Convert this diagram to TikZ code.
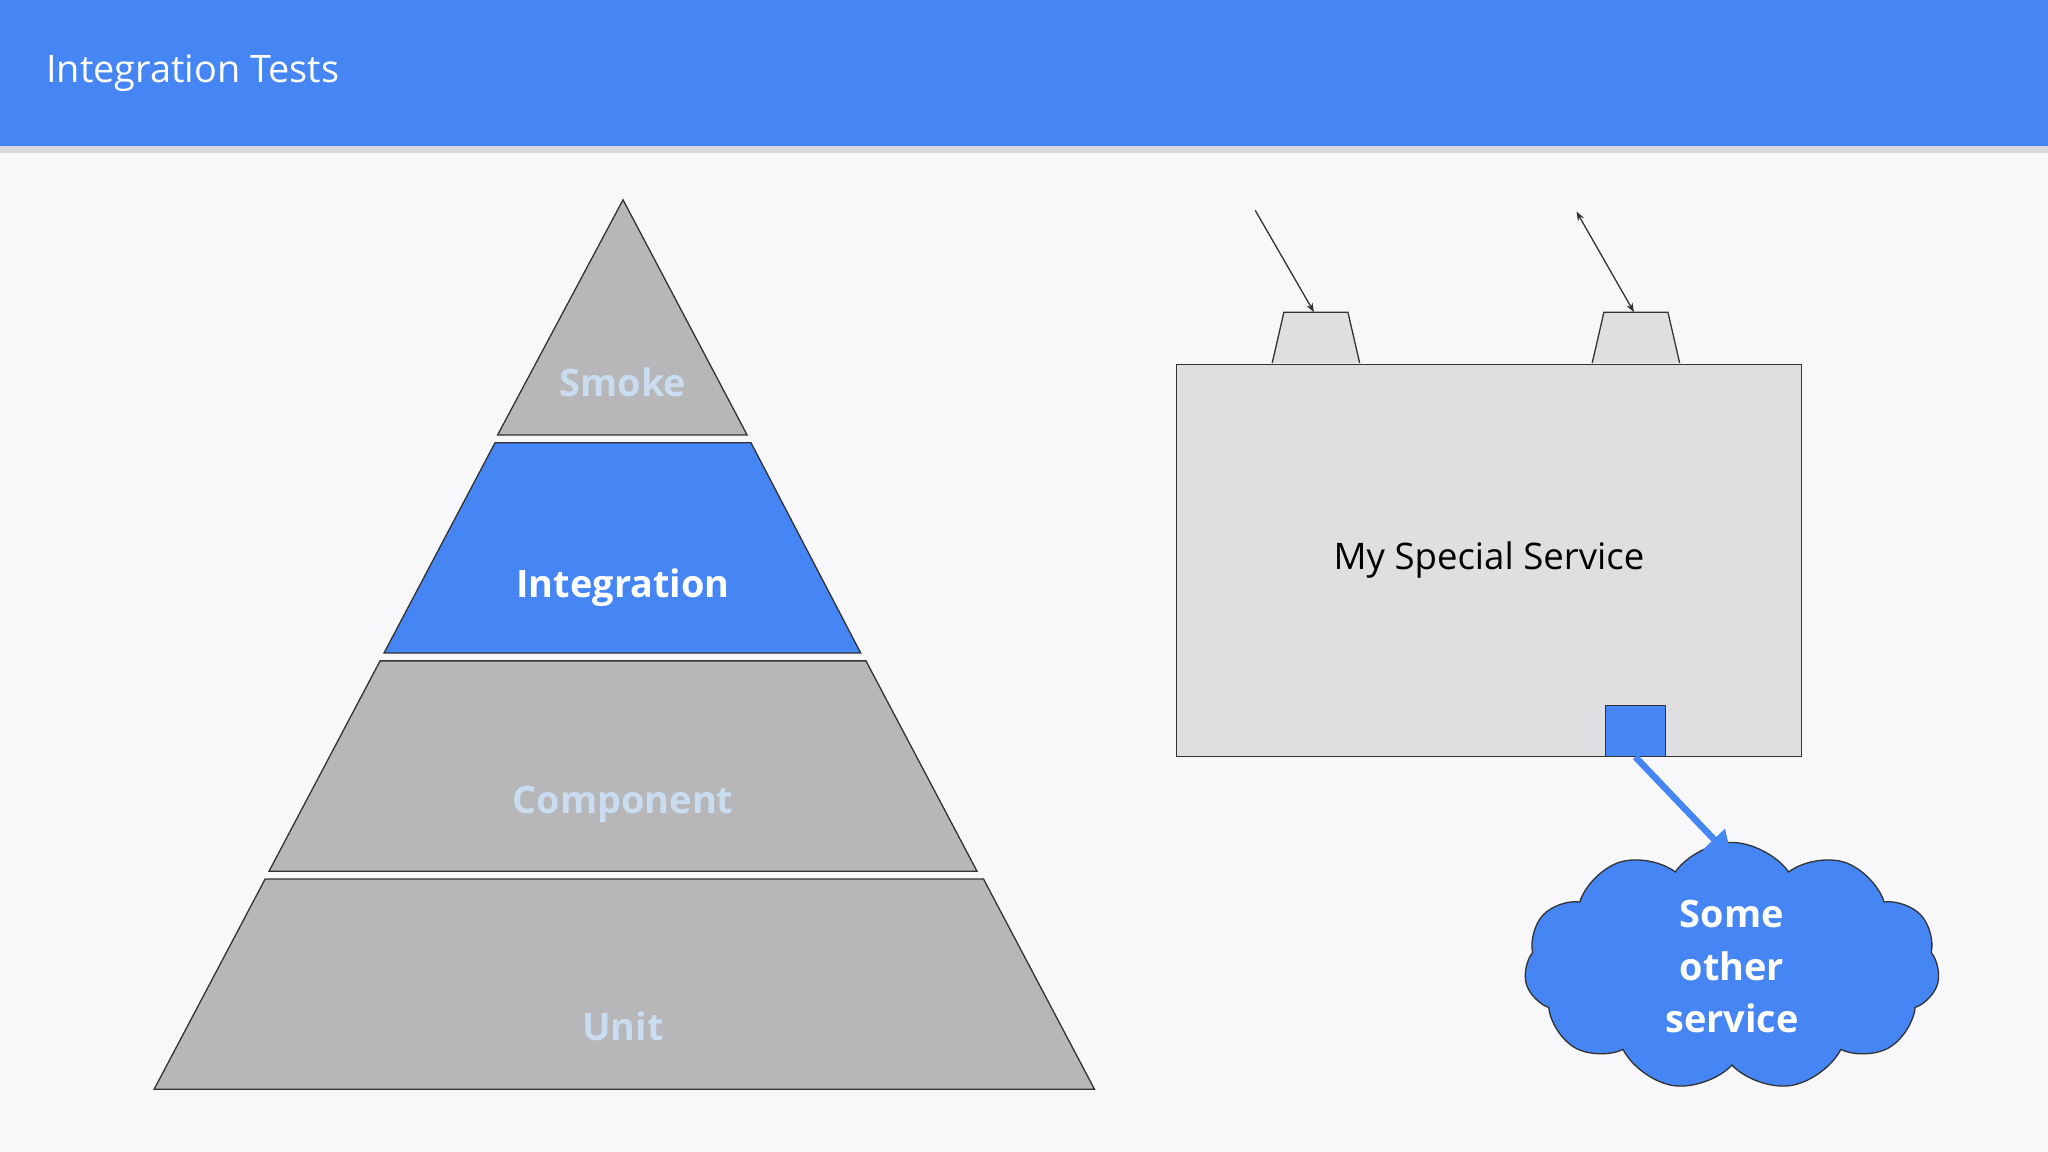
\documentclass[tikz,border=0pt]{standalone}
\usepackage{fontspec}
\setmainfont{Open Sans}
\usetikzlibrary{shapes.symbols,arrows.meta}
\definecolor{hdr}{HTML}{4585F4}
\definecolor{bg}{HTML}{F8F8FA}
\definecolor{gry}{HTML}{B7B6B8}
\definecolor{lbl}{HTML}{C9DCF0}
\definecolor{boxg}{HTML}{DFDEE1}
\definecolor{edge}{HTML}{333333}
\tikzset{layer/.style={draw=edge,line width=1pt,fill=gry},
lab/.style={font=\bfseries\fontsize{29}{34}\selectfont,text=lbl},
tab/.style={draw=edge,line width=1pt,fill=boxg}}
\begin{document}
\begin{tikzpicture}[x=1pt,y=-1pt]
\useasboundingbox (0,0) rectangle (1568,882);
\fill[bg] (0,0) rectangle (1568,882);
\fill[black!15] (0,112) rectangle (1568,117);
\fill[hdr] (0,0) rectangle (1568,112);
\node[anchor=west,text=white,font=\fontsize{29}{34}\selectfont] (title) at (32,56) {Integration Tests};
% pyramid
\draw[layer] (477,153) -- (572,333) -- (381,333) -- cycle;
\draw[layer,fill=hdr] (379,339) -- (575,339) -- (659,500) -- (294,500) -- cycle;
\draw[layer] (291,506) -- (663,506) -- (748,667) -- (206,667) -- cycle;
\draw[layer] (203,673) -- (753,673) -- (838,834) -- (118,834) -- cycle;
\node[lab] (smoke) at (477,293) {Smoke};
\node[lab,text=white] (integ) at (477,450) {Integration};
\node[lab] (comp) at (477,616) {Component};
\node[lab] (unit) at (477,786) {Unit};
% service
\node[draw=edge,line width=1pt,fill=boxg,minimum width=478pt,minimum height=300pt,inner sep=0pt,font=\fontsize{28}{34}\selectfont] (svc) at (1140,429) {My Special Service};
\draw[tab] (974,278) -- (983,239) -- (1032,239) -- (1041,278);
\draw[tab] (1219,278) -- (1228,239) -- (1277,239) -- (1286,278);
\coordinate (t1) at (1006,239); \coordinate (s1) at (961,161);
\coordinate (t2) at (1251,239); \coordinate (s2) at (1207,162);
\draw[edge,line width=1pt,-{Stealth[length=7pt]}] (s1) -- (t1);
\draw[edge,line width=1pt,{Stealth[length=7pt]}-{Stealth[length=7pt]}] (s2) -- (t2);
\node[draw=edge,line width=1pt,fill=hdr,minimum width=46pt,minimum height=39pt,inner sep=0pt] (sq) at (1252,559.5) {};
\node[cloud,cloud puffs=11,cloud puff arc=110,aspect=1.5,draw=edge,line width=1pt,fill=hdr,minimum width=318pt,minimum height=190pt,text=white,font=\bfseries\fontsize{29}{40}\selectfont,align=center,inner sep=0pt] (cloud) at (1326,740) {Some\\other\\service};
\coordinate (ae) at (1326,657);
\draw[hdr,line width=5pt,-{Triangle[length=20pt,width=22pt]}] (sq.south) -- (ae);
\end{tikzpicture}
\end{document}
